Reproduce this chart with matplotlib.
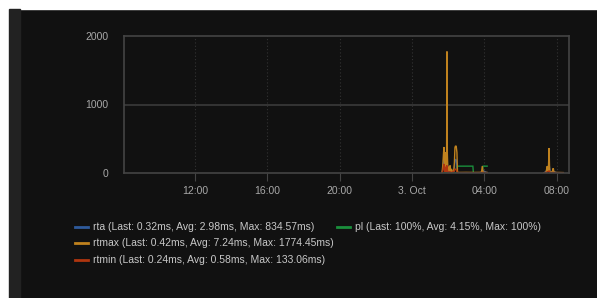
"""Ping latency panel (rta / pl / rtmax / rtmin), dark dashboard style."""
import numpy as np
import matplotlib

matplotlib.use("Agg")
import matplotlib.pyplot as plt
from matplotlib.lines import Line2D
from matplotlib.patches import Rectangle

nan = np.nan

# hours relative to 3 Oct 00:00
rtmax_h = [1.66, 1.70, 1.73, 1.76, 1.79, 1.82, 1.85, 1.88, 1.91, 1.93, 1.95, 1.98,
           2.02, 2.06, 2.10, 2.14, 2.18, 2.22, 2.26, 2.30, 2.34, 2.37, 2.40, 2.44,
           2.48, 2.51, 2.60, 3.00, 3.40, 3.80, 3.84, 3.88, 3.92, 4.00, 4.15,
           4.16,
           7.30, 7.40, 7.44, 7.47, 7.50, 7.54, 7.57, 7.60, 7.64, 7.70, 7.76, 7.80,
           7.84, 8.00, 8.20, 8.35]
rtmax_v = [5, 120, 250, 380, 210, 90, 300, 60, 330, 1774, 280, 40,
           90, 30, 110, 20, 60, 15, 25, 20, 150, 370, 395, 390,
           300, 10, 8, 9, 8, 9, 15, 100, 12, 9, 8,
           nan,
           5, 10, 60, 100, 30, 120, 365, 20, 12, 10, 30, 70,
           10, 8, 7, 6]

rta_h = [1.66, 1.70, 1.73, 1.76, 1.79, 1.82, 1.85, 1.88, 1.91, 1.93, 1.95, 1.98,
         2.02, 2.06, 2.10, 2.14, 2.22, 2.30, 2.34, 2.37, 2.40, 2.44, 2.48, 2.51,
         3.00, 3.80, 3.88, 4.15,
         4.16,
         7.30, 7.47, 7.57, 7.64, 7.80, 8.00, 8.35]
rta_v = [3, 60, 100, 200, 120, 40, 150, 30, 220, 834, 150, 20,
         40, 15, 50, 10, 8, 10, 60, 190, 200, 190, 100, 3,
         3, 3, 40, 3,
         nan,
         3, 40, 130, 5, 25, 3, 3]

rtmin_h = [1.66, 1.70, 1.73, 1.76, 1.79, 1.82, 1.85, 1.88, 1.91, 1.93, 1.95, 1.98,
           2.10, 2.14, 2.34, 2.37, 2.44, 2.48, 2.51, 3.00, 3.80, 3.88, 4.15,
           4.16,
           7.30, 7.47, 7.57, 7.64, 7.80, 8.00, 8.35]
rtmin_v = [1, 30, 80, 133, 60, 20, 90, 15, 100, 110, 50, 10,
           20, 5, 30, 60, 50, 20, 1, 1, 1, 10, 1,
           nan,
           1, 15, 30, 2, 8, 1, 1]

pl_h = [1.66, 2.45, 2.47, 2.50, 3.36, 3.39, 3.80, 3.88, 3.92, 4.15]
pl_v = [0, 0, 0, 100, 100, 0, 0, 0, 100, 100]

tick_h = [-12, -8, -4, 0, 4, 8]
tick_labels = ["12:00", "16:00", "20:00", "3. Oct", "04:00", "08:00"]

series = [
    ("rta (Last: 0.32ms, Avg: 2.98ms, Max: 834.57ms)", rta_h, rta_v, "#2f5b9c"),
    ("pl (Last: 100%, Avg: 4.15%, Max: 100%)", pl_h, pl_v, "#1a8f3c"),
    ("rtmax (Last: 0.42ms, Avg: 7.24ms, Max: 1774.45ms)", rtmax_h, rtmax_v, "#c0821e"),
    ("rtmin (Last: 0.24ms, Avg: 0.58ms, Max: 133.06ms)", rtmin_h, rtmin_v, "#b0360f"),
]

plt.rcParams["font.family"] = ["Liberation Sans", "DejaVu Sans"]

W, H = 597, 298
fig = plt.figure(figsize=(W / 100, H / 100), dpi=100, facecolor="#111111")

# page chrome: white strips at top/left, grey side bar
fig.patches.append(Rectangle((0, 1 - 9 / H), 1, 9 / H, transform=fig.transFigure,
                             color="white", zorder=-5))
fig.patches.append(Rectangle((0, 0), 9 / W, 1, transform=fig.transFigure,
                             color="white", zorder=-5))
fig.patches.append(Rectangle((9 / W, 0), 11 / W, 1 - 9 / H, transform=fig.transFigure,
                             color="#222222", zorder=-5))

ax = fig.add_axes([124 / W, 1 - 173 / H, (569 - 124) / W, (173 - 36) / H])
ax.set_facecolor("#111111")

for label, xs, ys, color in series:
    ax.plot(xs, ys, color=color, lw=1.0, solid_joinstyle="miter")

ax.set_xlim(-15.91, 8.67)
ax.set_ylim(0, 2000)
ax.set_yticks([0, 1000, 2000])
ax.set_yticklabels(["0", "1000", "2000"])
ax.set_xticks(tick_h)
ax.set_xticklabels(tick_labels)

ax.axhline(1000, color="#3a3a3a", lw=1.2, zorder=0)
for t in tick_h:
    ax.axvline(t, color="#333333", lw=0.8, ls=(0, (1, 2)), zorder=0)

for s in ax.spines.values():
    s.set_color("#444444")
    s.set_linewidth(1.2)

ax.tick_params(axis="x", colors="#444444", length=6, width=0.8, pad=3,
               labelcolor="#a8a8a8", labelsize=7.5)
ax.tick_params(axis="y", length=0, pad=11, labelcolor="#a8a8a8", labelsize=7.5)

# legend, laid out like the dashboard (rta / rtmax / rtmin stacked, pl beside rta)
rows = {0: (75, 227), 1: (337, 227), 2: (75, 243), 3: (75, 260)}
for i, (label, xs, ys, color) in enumerate(series):
    x0, y0 = rows[i]
    fy = 1 - y0 / H
    fig.add_artist(Line2D([x0 / W, (x0 + 13) / W], [fy, fy], transform=fig.transFigure,
                          color=color, lw=2))
    fig.text((x0 + 18) / W, fy, label, color="#c8c8c8", fontsize=7.5,
             va="center", ha="left")

fig.savefig("out.png", dpi=100, facecolor=fig.get_facecolor())
